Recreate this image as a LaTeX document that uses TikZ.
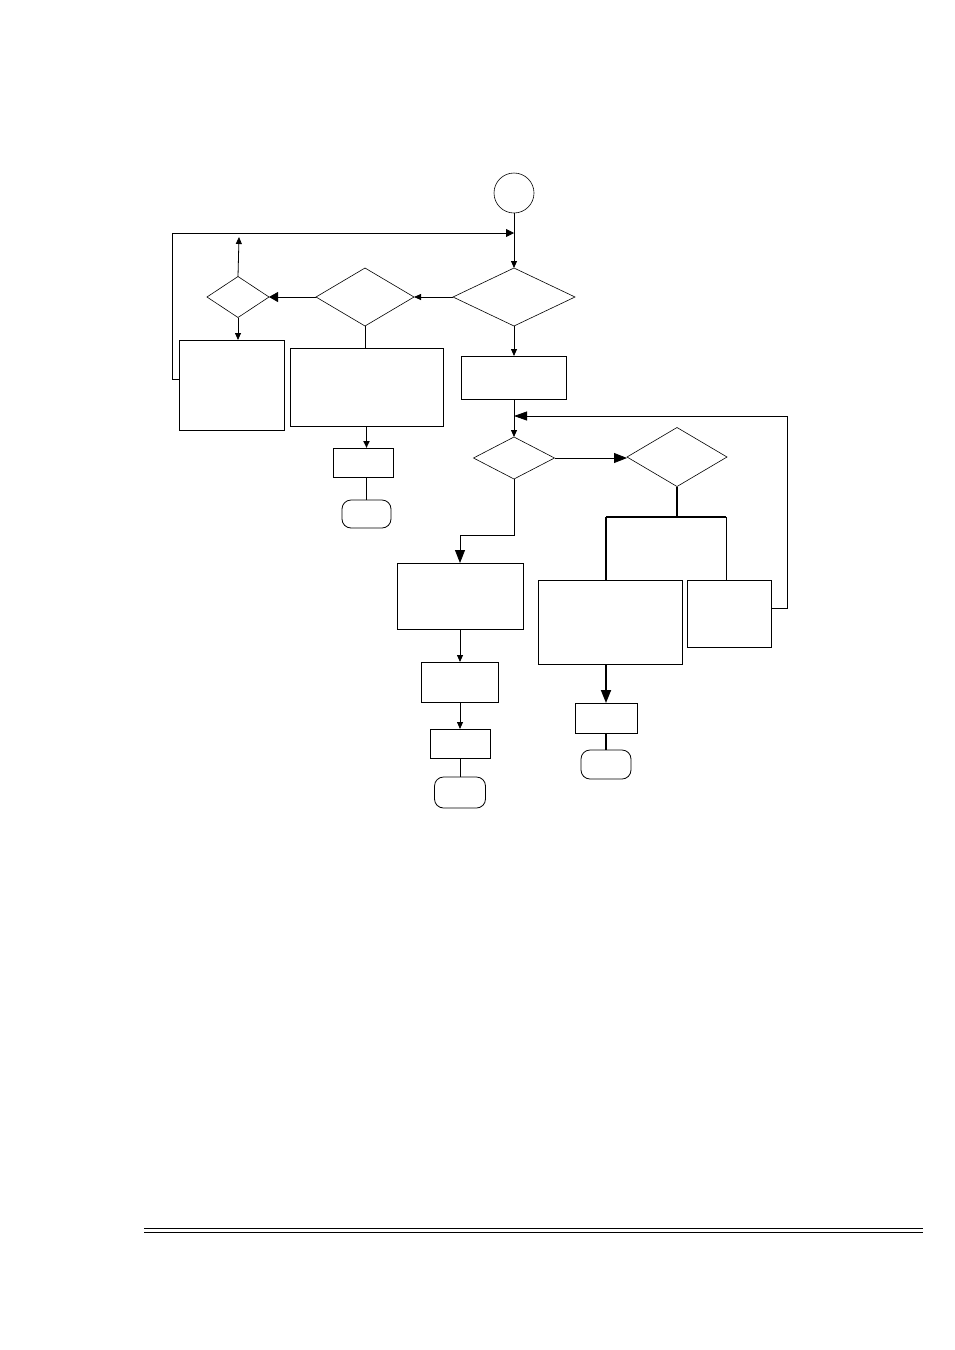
\documentclass[tikz,border=0pt]{standalone}
\usetikzlibrary{arrows.meta, positioning, shapes.geometric}
\tikzset{
  >={Triangle[length=7pt, width=6pt]},
  bighead/.style={-{Triangle[length=13pt, width=10pt]}},
  midhead/.style={-{Triangle[length=9pt, width=10pt]}},
  flow/.style={->, line width=0.8pt},
  flowb/.style={bighead, line width=0.8pt},
  flowt/.style={line width=1.8pt},
  box/.style={rectangle, draw, line width=0.8pt, inner sep=0pt, outer sep=0pt},
  dec/.style={diamond, draw, line width=0.6pt, inner sep=0pt, outer sep=0pt},
  term/.style={box, rounded corners=9pt},
  start/.style={circle, draw, line width=0.6pt, inner sep=0pt, outer sep=0pt, minimum size=40pt},
}
\begin{document}
\begin{tikzpicture}[x=1pt, y=-1pt, line width=0.8pt]
  \useasboundingbox (0,0) rectangle (955,1350);
  % upper part
  \node[start] (st) at (514,193) {};
  \node[dec, minimum width=122pt, minimum height=58pt] (d1) at (514,297) {};
  \node[dec, minimum width=98pt, minimum height=58pt, left=39pt of d1] (d2) {};
  \node[dec, minimum width=62pt, minimum height=41pt, left=47pt of d2] (d3) {};
  \node[box, minimum width=105pt, minimum height=90pt] (b1) at (231.5,385) {};
  \node[box, minimum width=153pt, minimum height=78pt] (b2) at (366.5,387) {};
  \node[box, minimum width=105pt, minimum height=43pt, below=30pt of d1] (b3) {};
  \node[box, minimum width=60pt, minimum height=29pt] (b10) at (363,462.5) {};
  \node[term, minimum width=49pt, minimum height=28pt] (t1) at (366.5,514) {};
  % lower part
  \node[dec, minimum width=81pt, minimum height=42pt, below=38pt of b3] (d4) {};
  \node[dec, minimum width=100pt, minimum height=59pt] (d5) at (677,457) {};
  \node[box, minimum width=126pt, minimum height=66pt] (b4) at (460,596) {};
  \node[box, minimum width=77pt, minimum height=40pt, below=33pt of b4] (b5) {};
  \node[box, minimum width=60pt, minimum height=29pt, below=27pt of b5] (b8) {};
  \node[term, minimum width=51pt, minimum height=31pt, below=19pt of b8] (t3) {};
  \node[box, minimum width=144pt, minimum height=84pt] (b6) at (610,622) {};
  \node[box, minimum width=84pt, minimum height=67pt] (b7) at (729,613.5) {};
  \node[box, minimum width=62pt, minimum height=30pt] (b9) at (606,718) {};
  \node[term, minimum width=50pt, minimum height=29pt, below=17pt of b9] (t2) {};
  \coordinate (top) at (514,233);
  \coordinate (ret) at (514,416);
  \coordinate (up) at (239,237);
  \coordinate (fork) at (606,517);
  \coordinate (fork2) at (726,517);
  % connectors
  \draw[flow] (st) -- (d1);
  \draw[flow, -{Triangle[length=8pt, width=8pt]}] ([yshift=6pt]b1.west) -- ++(-7,0) |- (top);
  \draw[flow] (d1.west) -- (d2.east);
  \draw[flow, midhead] (d2.west) -- (d3.east);
  \draw[flow] (d3.north) -- (up);
  \draw[flow] (d3.south) -- (d3.south |- b1.north);
  \draw (d2.south) -- (d2.south |- b2.north);
  \draw[flow] (d1) -- (b3);
  \draw[flowt, ->] (b2.south) -- (b2.south |- b10.north);
  \draw[flowt] (b10.south -| t1.north) -- (t1.north);
  \draw[flow] (b3) -- (d4);
  \draw[flow, -{Triangle[length=13pt, width=9pt]}] ([yshift=5.5pt]b7.east) -- ++(16,0) |- (ret);
  \draw[flowb] (d4.east) -- (d4.east -| d5.west);
  \draw[flowb] (d4.south) -- ++(0,56) -| (b4.north);
  \draw[flow] (b4) -- (b5);
  \draw[flow] (b5) -- (b8);
  \draw (b8) -- (t3);
  \draw[flowt] (d5.south) -- (d5.south |- fork);
  \draw[flowt] (fork) -- (fork2);
  \draw[flowt] (fork) -- (fork |- b6.north);
  \draw (fork2) -- (fork2 |- b7.north);
  \draw[flowt, bighead] (fork |- b6.south) -- (b9.north);
  \draw[flowt] (b9) -- (t2);
  % rule at the foot
  \draw[line width=1.3pt] (144,1228.5) -- (923,1228.5);
  \draw[line width=1.3pt] (144,1232.3) -- (923,1232.3);
\end{tikzpicture}
\end{document}
